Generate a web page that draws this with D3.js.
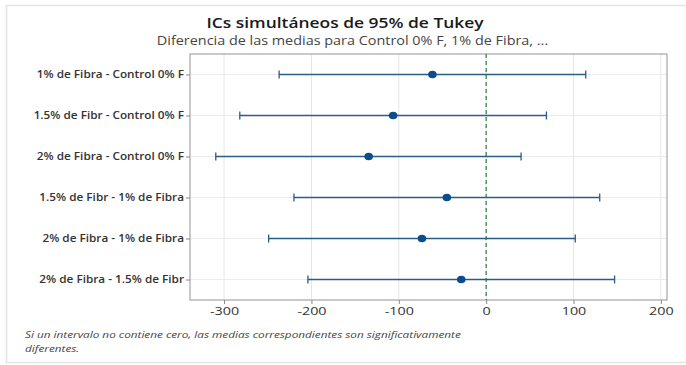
<!DOCTYPE html>
<html><head><meta charset="utf-8">
<script src="https://cdn.jsdelivr.net/npm/d3@7"></script>
<style>
html,body{margin:0;padding:0;background:#fff;}
svg{display:block;}
</style></head>
<body>
<svg id="chart" width="686" height="365"></svg>
<script>
const categories = [
  "1% de Fibra - Control 0% F",
  "1.5% de Fibr - Control 0% F",
  "2% de Fibra - Control 0% F",
  "1.5% de Fibr - 1% de Fibra",
  "2% de Fibra - 1% de Fibra",
  "2% de Fibra - 1.5% de Fibr"
];
const means = [-61.5, -106.5, -134.5, -45, -73.5, -28.5];
const lowers = [-237, -282, -309.5, -220, -249, -204];
const uppers = [114, 69, 40, 130, 102, 147];
const xTicks = [-300, -200, -100, 0, 100, 200];
const title = "ICs simultáneos de 95% de Tukey";
const subtitle = "Diferencia de las medias para Control 0% F, 1% de Fibra, ...";
const footnote = ["Si un intervalo no contiene cero, las medias correspondientes son significativamente", "diferentes."];

const svg = d3.select("#chart");
const W = 686, H = 365;
const plot = {left: 190, right: 667, top: 54, bottom: 300};
const FF = "'Open Sans', 'Noto Sans', sans-serif";
const K = 1.2; // horizontal stretch of the reference's lettering

function stretch(sel, k) {
  sel.each(function() {
    const w = this.getComputedTextLength();
    d3.select(this).attr("textLength", w * k).attr("lengthAdjust", "spacingAndGlyphs");
  });
}

// outer frame
svg.append("rect").attr("x", 6.5).attr("y", 5.5).attr("width", W - 6).attr("height", H - 8)
  .attr("fill", "#fff").attr("stroke", "#e4e4e4").attr("stroke-width", 1.5);

const x = d3.scaleLinear().domain([-339, 207]).range([plot.left, plot.right]);
const y = d3.scalePoint().domain(categories).range([plot.top, plot.bottom]).padding(0.5);

// gridlines
const g = svg.append("g");
g.selectAll(".vg").data(xTicks).enter().append("line")
  .attr("x1", d => x(d)).attr("x2", d => x(d))
  .attr("y1", plot.top).attr("y2", plot.bottom)
  .attr("stroke", "#e6e6e6").attr("stroke-width", 1);
g.selectAll(".hg").data(categories).enter().append("line")
  .attr("x1", plot.left).attr("x2", plot.right)
  .attr("y1", d => y(d)).attr("y2", d => y(d))
  .attr("stroke", "#ececec").attr("stroke-width", 1);

// frame
svg.append("rect").attr("x", plot.left).attr("y", plot.top)
  .attr("width", plot.right - plot.left).attr("height", plot.bottom - plot.top)
  .attr("fill", "none").attr("stroke", "#a6a6a6").attr("stroke-width", 1.2);

// reference line at 0
svg.append("line").attr("x1", x(0)).attr("x2", x(0)).attr("y1", plot.top).attr("y2", plot.bottom)
  .attr("stroke", "#2e7d3a").attr("stroke-width", 1.2).attr("stroke-dasharray", "4,3");

// axes
const xAxis = d3.axisBottom(x).tickValues(xTicks).tickSize(4).tickPadding(3).tickFormat(d3.format("d"));
const xg = svg.append("g").attr("transform", `translate(0,${plot.bottom})`).call(xAxis);
xg.select(".domain").remove();
xg.selectAll(".tick line").attr("stroke", "#888");
xg.selectAll(".tick text").attr("fill", "#333").attr("font-size", "11px")
  .attr("font-family", FF).text(d => d < 0 ? "-" + Math.abs(d) : d);
stretch(xg.selectAll(".tick text"), 1.3);

const yAxis = d3.axisLeft(y).tickSize(4).tickPadding(2);
const yg = svg.append("g").attr("transform", `translate(${plot.left},0)`).call(yAxis);
yg.select(".domain").remove();
yg.selectAll(".tick line").attr("stroke", "#888");
yg.selectAll(".tick text").attr("fill", "#333").attr("font-size", "9.8px").attr("font-weight", 600)
  .attr("font-family", FF);
stretch(yg.selectAll(".tick text"), K);

// intervals
const iv = svg.append("g");
const data = categories.map((c, i) => ({c, m: means[i], lo: lowers[i], hi: uppers[i]}));
const col = "#2a5d86";
iv.selectAll(".bar").data(data).enter().append("line")
  .attr("x1", d => x(d.lo)).attr("x2", d => x(d.hi))
  .attr("y1", d => y(d.c)).attr("y2", d => y(d.c))
  .attr("stroke", col).attr("stroke-width", 1.3);
iv.selectAll(".capL").data(data).enter().append("line")
  .attr("x1", d => x(d.lo)).attr("x2", d => x(d.lo))
  .attr("y1", d => y(d.c) - 4).attr("y2", d => y(d.c) + 4)
  .attr("stroke", col).attr("stroke-width", 1.3);
iv.selectAll(".capR").data(data).enter().append("line")
  .attr("x1", d => x(d.hi)).attr("x2", d => x(d.hi))
  .attr("y1", d => y(d.c) - 4).attr("y2", d => y(d.c) + 4)
  .attr("stroke", col).attr("stroke-width", 1.3);
iv.selectAll(".pt").data(data).enter().append("ellipse")
  .attr("cx", d => x(d.m)).attr("cy", d => y(d.c)).attr("rx", 4.3).attr("ry", 3.8)
  .attr("fill", "#0b4d8c");

// titles
const t1 = svg.append("text").attr("x", 345).attr("y", 27.5).attr("text-anchor", "middle")
  .attr("font-family", FF).attr("font-size", "14.5px").attr("font-weight", 600)
  .attr("fill", "#1a1a1a").text(title);
stretch(t1, K);
const t2 = svg.append("text").attr("x", 352.5).attr("y", 44.5).attr("text-anchor", "middle")
  .attr("font-family", FF).attr("font-size", "12px")
  .attr("fill", "#444").text(subtitle);
stretch(t2, K);

// footnote
const fn = svg.selectAll(".fn").data(footnote).enter().append("text")
  .attr("x", 25).attr("y", (d, i) => 338 + i * 14)
  .attr("font-family", FF).attr("font-size", "9.8px").attr("font-style", "italic")
  .attr("fill", "#444").text(d => d);
stretch(fn, K);
</script>
</body></html>
